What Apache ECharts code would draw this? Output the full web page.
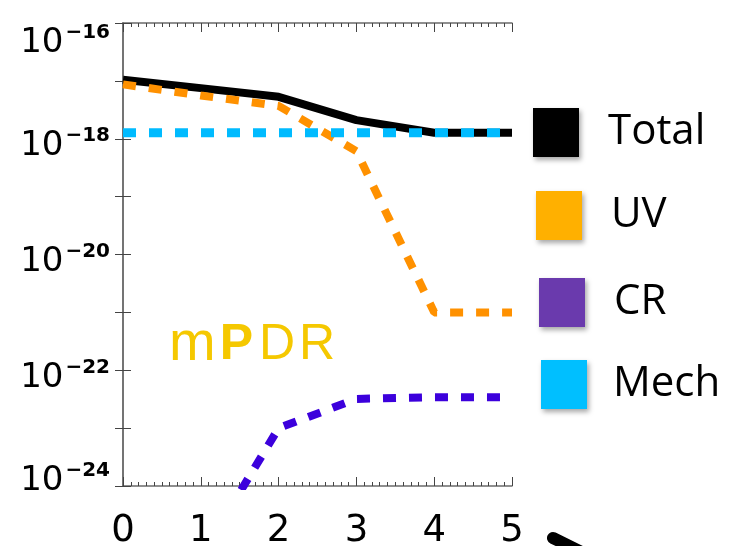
<!DOCTYPE html>
<html>
<head>
<meta charset="utf-8">
<script src="https://cdn.jsdelivr.net/npm/echarts@6/dist/echarts.min.js"></script>
<style>
  html, body { margin: 0; padding: 0; background: #ffffff; }
  #chart { width: 730px; height: 546px; }
</style>
</head>
<body>
<div id="chart"></div>
<script>
// Heating-rate contributions versus depth; the y axis is laid out in powers of ten
const xValues = [0, 1, 2, 3, 4, 5];
const totalValues = [1.05e-17, 7.5e-18, 5.3e-18, 2.1e-18, 1.27e-18, 1.27e-18];
const uvValues = [8.7e-18, 5.6e-18, 3.7e-18, 6.1e-19, 1.0e-21, 1.0e-21];
const crValues = [null, 6.0e-26, 1.0e-23, 3.2e-23, 3.4e-23, 3.4e-23];
const mechValues = [1.27e-18, 1.27e-18, 1.27e-18, 1.27e-18, 1.27e-18, 1.27e-18];

const xTickLabels = ['0', '1', '2', '3', '4', '5'];
const yLabelExponents = [-24, -22, -20, -18, -16];

const seriesNames = ['Total', 'UV', 'CR', 'Mech'];
const lineColors = ['#000000', '#ff9100', '#3c00dc', '#00bbff'];
const legendColors = ['#000000', '#ffb000', '#6a3aad', '#00bfff'];

// decade exponent of each value, so the value axis works as a log10 scale
const pairs = vals => xValues.map((x, i) => [x, vals[i] == null ? null : Math.log10(vals[i])]);

const chart = echarts.init(document.getElementById('chart'), null, { renderer: 'canvas' });

const axisLineStyle = { color: '#6b6b6b', width: 1.5 };
const tickStyle = { color: '#444', width: 1 };

function xAxisCfg(position, showLabels) {
  return {
    type: 'value', position: position, min: 0, max: 5, interval: 1,
    axisLine: { show: true, lineStyle: axisLineStyle },
    axisTick: { show: true, inside: true, length: 9, lineStyle: tickStyle },
    minorTick: { show: true, splitNumber: 10, length: 4, lineStyle: tickStyle },
    splitLine: { show: false },
    minorSplitLine: { show: false },
    axisLabel: {
      show: showLabels, margin: 27, color: '#000',
      fontSize: 37, fontFamily: 'DejaVu Sans',
      formatter: v => xTickLabels[xValues.indexOf(Math.round(v))] || ''
    }
  };
}

function yAxisCfg(position, showLabels) {
  return {
    type: 'value', position: position, min: -24, max: -16, interval: 1,
    axisLine: { show: true, lineStyle: axisLineStyle },
    axisTick: { show: true, inside: true, length: 8, lineStyle: tickStyle },
    minorTick: { show: false },
    splitLine: { show: false },
    axisLabel: {
      show: showLabels, margin: 13,
      verticalAlignMinLabel: 'bottom',
      verticalAlignMaxLabel: 'top',
      formatter: v => {
        const e = Math.round(v);
        return yLabelExponents.includes(e) ? '{b|10}{s|\u2212' + Math.abs(e) + '}' : '';
      },
      rich: {
        b: { fontSize: 34, fontFamily: 'DejaVu Sans', color: '#000', lineHeight: 25, verticalAlign: 'top', padding: [3, 0, 0, 0] },
        s: { fontSize: 20, fontFamily: 'DejaVu Sans', fontWeight: 'bold', color: '#000', lineHeight: 4, verticalAlign: 'top', padding: [0, 0, 0, 2] }
      }
    }
  };
}

const legendBoxes = [
  { left: 533, top: 108, gap: 24 },
  { left: 536, top: 191, gap: 24 },
  { left: 539, top: 278, gap: 24 },
  { left: 541, top: 360, gap: 21 }
];

const option = {
  animation: false,
  backgroundColor: '#ffffff',
  grid: { left: 123, right: 218, top: 23, bottom: 60, containLabel: false, outerBoundsMode: 'none' },
  title: {
    text: '{m|m}{p|P}{a|D}{a|R}',
    left: 164, top: 312,
    textStyle: {
      rich: {
        m: { fontSize: 56, fontFamily: 'Liberation Sans', color: '#f5c800', fontWeight: 'normal', padding: [0, 4, 0, 0] },
        p: { fontSize: 50, fontFamily: 'Liberation Sans', color: '#f5c800', fontWeight: 'bold', padding: [0, 6, 0, 0] },
        a: { fontSize: 50, fontFamily: 'Liberation Sans', color: '#f5c800', fontWeight: 'normal', padding: [0, 4, 0, 0] }
      }
    }
  },
  legend: seriesNames.map((name, i) => ({
    orient: 'vertical',
    left: legendBoxes[i].left,
    top: legendBoxes[i].top,
    padding: 0,
    itemWidth: 46,
    itemHeight: 49,
    icon: 'rect',
    selectedMode: false,
    textStyle: {
      fontSize: 42, fontFamily: 'Open Sans', color: '#000',
      padding: [0, 0, 0, legendBoxes[i].gap]
    },
    data: [{
      name: name,
      itemStyle: {
        color: legendColors[i], borderWidth: 0,
        shadowBlur: 5, shadowColor: 'rgba(0,0,0,0.35)', shadowOffsetX: 2, shadowOffsetY: 3
      }
    }]
  })),
  xAxis: [xAxisCfg('bottom', true), xAxisCfg('top', false)],
  yAxis: [yAxisCfg('left', true), yAxisCfg('right', false)],
  series: [
    {
      name: 'Total', type: 'line', data: pairs(totalValues), symbol: 'none', z: 2,
      lineStyle: { color: lineColors[0], width: 8, join: 'round' }
    },
    {
      name: 'UV', type: 'line', data: pairs(uvValues), symbol: 'none', z: 3,
      lineStyle: { color: lineColors[1], width: 8, type: [13, 13], cap: 'butt' }
    },
    {
      name: 'CR', type: 'line', data: pairs(crValues), symbol: 'none', z: 3,
      lineStyle: { color: lineColors[2], width: 8, type: [13, 13], cap: 'butt' }
    },
    {
      name: 'Mech', type: 'line', data: pairs(mechValues), symbol: 'none', z: 4,
      lineStyle: { color: lineColors[3], width: 9, type: [13, 13], cap: 'butt' }
    }
  ],
  graphic: [
    {
      type: 'line', z: 10,
      shape: { x1: 553, y1: 538, x2: 610, y2: 566 },
      style: { stroke: '#000', lineWidth: 12, lineCap: 'round' }
    }
  ]
};

chart.setOption(option);
</script>
</body>
</html>
